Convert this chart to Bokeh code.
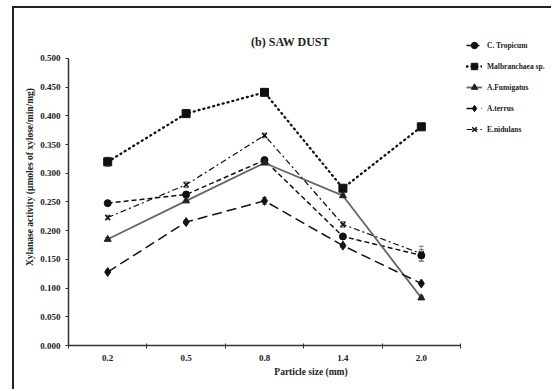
import numpy as np
from bokeh.plotting import figure
from bokeh.models import (Range1d, FixedTicker, Legend, LegendItem, Whisker,
                          ColumnDataSource, Label)
from bokeh.embed import file_html
from bokeh.resources import INLINE

sizes = ["0.2", "0.5", "0.8", "1.4", "2.0"]
series_names = ["C. Tropicum", "Malbranchaea sp.", "A.Fumigatus", "A.terrus", "E.nidulans"]
c_tropicum = [0.248, 0.263, 0.323, 0.190, 0.157]
malbranchaea = [0.320, 0.404, 0.441, 0.274, 0.381]
a_fumigatus = [0.185, 0.252, 0.318, 0.261, 0.083]
a_terrus = [0.128, 0.215, 0.252, 0.174, 0.108]
e_nidulans = [0.223, 0.280, 0.366, 0.211, 0.160]
err_c_tropicum = [0.004, 0.005, 0.004, 0.004, 0.010]
err_malbranchaea = [0.008, 0.003, 0.004, 0.004, 0.003]
err_a_fumigatus = [0.003, 0.003, 0.003, 0.003, 0.003]
err_a_terrus = [0.003, 0.003, 0.006, 0.003, 0.003]
err_e_nidulans = [0.004, 0.005, 0.004, 0.005, 0.013]
y_ticks = [0.0, 0.05, 0.1, 0.15, 0.2, 0.25, 0.3, 0.35, 0.4, 0.45, 0.5]

FONT = "Liberation Serif"

n = len(sizes)
# frame extends to the right/top edges so the legend and title (outside the axes) stay visible
p = figure(width=539, height=383, output_backend="svg", toolbar_location=None,
           x_range=Range1d(0, 6.186), y_range=Range1d(0, 0.5871),
           min_border_left=54, min_border_right=0, min_border_top=0,
           min_border_bottom=46)
p.styles = {"margin-left": "12px", "margin-top": "6px",
            "border-left": "2px solid #222222", "border-top": "2px solid #222222"}
p.outline_line_color = None
p.xgrid.visible = False
p.ygrid.visible = False
p.background_fill_color = "white"
p.border_fill_color = "white"

centers = [i + 0.5 for i in range(n)]
bounds = [float(i) for i in range(n + 1)]

# x axis
p.xaxis.bounds = (0, n)
p.xaxis.ticker = FixedTicker(ticks=centers, minor_ticks=bounds)
p.xaxis.major_label_overrides = {c: s for c, s in zip(centers, sizes)}
p.xaxis.major_tick_out = 0
p.xaxis.major_tick_in = 0
p.xaxis.minor_tick_out = 3
p.xaxis.minor_tick_in = 2
p.xaxis.axis_label = "Particle size (mm)"
p.xaxis.major_label_standoff = 6
p.xaxis.axis_label_standoff = 3

# y axis
p.yaxis.bounds = (0, 0.5)
p.yaxis.ticker = FixedTicker(ticks=y_ticks, minor_ticks=[])
p.yaxis.major_label_overrides = {t: f"{t:.3f}" for t in y_ticks}
p.yaxis.major_tick_out = 3
p.yaxis.major_tick_in = 0
p.yaxis.minor_tick_out = 0
p.yaxis.minor_tick_in = 0
p.yaxis.axis_label = "Xylanase activity (\u00b5moles of xylose/min/mg)"
p.yaxis.major_label_standoff = 5
p.yaxis.axis_label_standoff = 2

for ax in (p.xaxis, p.yaxis):
    ax.axis_line_color = "#333333"
    ax.axis_line_width = 1.5
    ax.major_tick_line_color = "#333333"
    ax.minor_tick_line_color = "#333333"
    ax.major_label_text_font = FONT
    ax.major_label_text_font_style = "bold"
    ax.major_label_text_font_size = "9px"
    ax.major_label_text_color = "#222222"
    ax.axis_label_text_font = FONT
    ax.axis_label_text_font_style = "bold"
    ax.axis_label_text_font_size = "9.5px"
    ax.axis_label_text_color = "#222222"

styles = [
    (c_tropicum, err_c_tropicum, "#111111", 1.5, "5 3", "circle", 7),
    (malbranchaea, err_malbranchaea, "#111111", 2.3, "1 4", "square", 8),
    (a_fumigatus, err_a_fumigatus, "#666666", 1.8, "solid", "triangle", 7),
    (a_terrus, err_a_terrus, "#111111", 1.5, "10 5", "diamond", 9),
    (e_nidulans, err_e_nidulans, "#111111", 1.2, "6 3 2 3", "x", 7),
]

items = []
for name, (vals, errs, col, lw, dash, marker, ms) in zip(series_names, styles):
    src = ColumnDataSource(dict(x=centers, y=vals,
                                lo=[v - e for v, e in zip(vals, errs)],
                                hi=[v + e for v, e in zip(vals, errs)]))
    w = Whisker(source=src, base="x", lower="lo", upper="hi",
                line_color="#777777", line_width=0.8)
    w.upper_head.size = 5
    w.lower_head.size = 5
    w.upper_head.line_color = "#777777"
    w.lower_head.line_color = "#777777"
    p.add_layout(w)
    r_line = p.line("x", "y", source=src, line_color=col, line_width=lw,
                    line_dash=dash, line_cap="round" if dash == "1 4" else "butt")
    mcol = "#111111" if col != "#666666" else "#222222"
    r_pts = p.scatter("x", "y", source=src, marker=marker, size=ms,
                      fill_color=mcol, line_color=mcol,
                      line_width=1.5 if marker == "x" else 1)
    items.append(LegendItem(label=name, renderers=[r_line, r_pts]))

legend = Legend(items=items, location=(398, 207), padding=0, margin=0,
                spacing=3, glyph_width=16, glyph_height=18, label_height=18,
                label_standoff=5, label_text_font=FONT,
                label_text_font_style="bold", label_text_font_size="7.5px",
                label_text_color="#222222",
                border_line_alpha=0, background_fill_alpha=0)
p.add_layout(legend)

title = Label(x=2.83, y=0.528, text="(b) SAW DUST", text_align="center",
              text_baseline="middle", text_font=FONT, text_font_style="bold",
              text_font_size="12px", text_color="#222222")
p.add_layout(title)

open("out.html", "w").write(file_html(p, INLINE))
